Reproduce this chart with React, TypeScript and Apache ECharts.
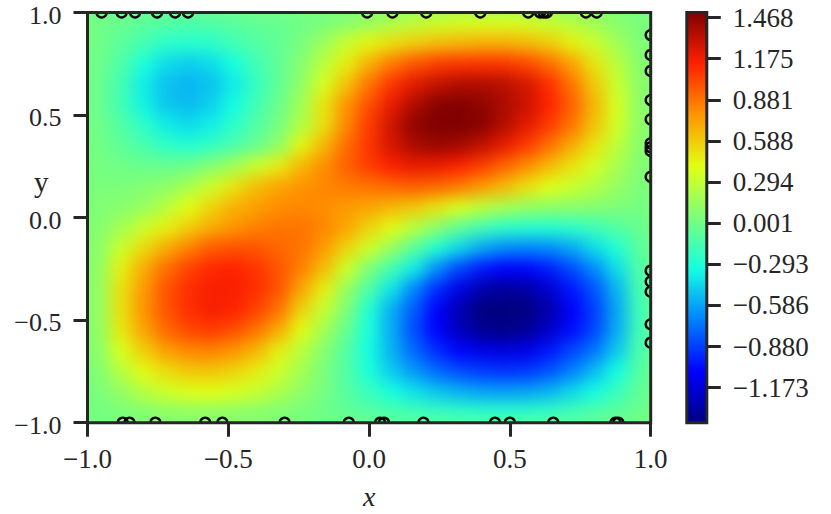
import React, { useEffect, useRef } from "react";
import * as echarts from "echarts";

const xCells = ["-0.96","-0.88","-0.80","-0.72","-0.64","-0.56","-0.48","-0.40","-0.32","-0.24","-0.16","-0.08","0.00","0.08","0.16","0.24","0.32","0.40","0.48","0.56","0.64","0.72","0.80","0.88","0.96"];
const yCells = ["0.95","0.85","0.75","0.65","0.55","0.45","0.35","0.25","0.15","0.05","-0.05","-0.15","-0.25","-0.35","-0.45","-0.55","-0.65","-0.75","-0.85","-0.95"];

const fieldRows: number[][] = [
  [0,-.03,-.07,-.1,-.12,-.11,-.08,-.05,-.03,0,.03,.08,.14,.21,.28,.33,.36,.37,.37,.36,.31,.25,.17,.09,.03],
  [0,-.07,-.15,-.24,-.26,-.24,-.16,-.1,-.05,.03,.16,.31,.44,.52,.58,.63,.66,.68,.68,.65,.58,.46,.32,.18,.06],
  [-.01,-.12,-.3,-.43,-.47,-.43,-.31,-.17,-.05,.08,.27,.47,.68,.86,.98,1.05,1.08,1.09,1.08,1.02,.9,.73,.5,.26,.09],
  [-.02,-.16,-.38,-.5,-.54,-.5,-.38,-.21,-.05,.12,.36,.62,.88,1.08,1.22,1.31,1.36,1.37,1.34,1.26,1.1,.88,.6,.32,.1],
  [-.02,-.17,-.36,-.49,-.52,-.46,-.33,-.17,-.02,.18,.5,.78,1,1.2,1.37,1.48,1.5,1.46,1.38,1.29,1.14,.94,.66,.36,.11],
  [0,-.11,-.24,-.38,-.43,-.37,-.24,-.11,.03,.23,.52,.82,1.06,1.28,1.46,1.56,1.56,1.48,1.36,1.22,1.06,.88,.62,.35,.11],
  [.01,-.06,-.14,-.23,-.27,-.22,-.13,-.03,.12,.44,.66,.9,1.08,1.26,1.38,1.43,1.4,1.32,1.2,1.06,.89,.7,.5,.28,.09],
  [.02,0,-.02,-.03,0,.08,.18,.32,.47,.66,.8,.94,1.06,1.15,1.2,1.19,1.14,1.05,.93,.8,.65,.5,.35,.2,.07],
  [.04,.04,.07,.1,.2,.33,.5,.64,.72,.78,.82,.86,.88,.92,.95,.92,.86,.76,.65,.52,.4,.32,.24,.14,.05],
  [.06,.09,.14,.26,.41,.56,.68,.74,.8,.82,.8,.76,.72,.66,.6,.5,.38,.28,.2,.14,.12,.1,.08,.05,.02],
  [.08,.18,.32,.46,.58,.7,.78,.84,.88,.88,.82,.72,.56,.42,.26,.1,-.06,-.16,-.24,-.26,-.27,-.24,-.18,-.1,-.03],
  [.1,.32,.54,.7,.84,.96,.99,.98,.92,.88,.76,.56,.34,.14,-.08,-.28,-.44,-.58,-.66,-.68,-.66,-.58,-.43,-.28,-.08],
  [.12,.46,.7,.9,1.04,1.12,1.14,1.08,.98,.84,.64,.34,.05,-.16,-.38,-.65,-.86,-.99,-1.06,-1.05,-.98,-.84,-.66,-.42,-.12],
  [.13,.51,.76,.98,1.1,1.16,1.16,1.1,.98,.72,.46,.14,-.12,-.4,-.68,-.93,-1.14,-1.29,-1.35,-1.32,-1.2,-1,-.82,-.54,-.15],
  [.13,.52,.78,.98,1.1,1.16,1.14,1.04,.88,.56,.3,.06,-.28,-.56,-.8,-1.06,-1.28,-1.42,-1.46,-1.42,-1.29,-1.07,-.88,-.58,-.17],
  [.12,.49,.72,.92,1.02,1.06,1,.88,.7,.42,.18,-.04,-.3,-.56,-.84,-1.06,-1.25,-1.37,-1.4,-1.36,-1.22,-1.03,-.86,-.57,-.17],
  [.1,.38,.58,.74,.82,.84,.78,.66,.46,.26,.08,-.1,-.33,-.55,-.76,-.93,-1.05,-1.12,-1.15,-1.12,-1,-.86,-.72,-.48,-.14],
  [.07,.25,.42,.53,.6,.61,.56,.47,.33,.18,.04,-.11,-.3,-.48,-.62,-.75,-.84,-.89,-.91,-.9,-.82,-.69,-.52,-.33,-.1],
  [.04,.13,.25,.34,.39,.41,.37,.31,.22,.12,.02,-.09,-.2,-.31,-.41,-.49,-.55,-.59,-.6,-.59,-.54,-.44,-.33,-.2,-.06],
  [.01,.04,.07,.1,.12,.12,.11,.09,.06,.03,-.01,-.05,-.09,-.13,-.17,-.2,-.22,-.24,-.24,-.24,-.21,-.17,-.12,-.07,-.02],
];

const topPointsX = [-.95,-.879,-.831,-.753,-.689,-.643,-.007,.083,.203,.395,.565,.607,.62,.631,.77,.808];
const bottomPointsX = [-.875,-.851,-.759,-.582,-.521,-.3,-.072,.039,.053,.193,.447,.5,.654,.875,.885];
const rightPointsY = [.89,.793,.715,.573,.479,.362,.343,.325,.199,-.259,-.312,-.361,-.52,-.61];

const colorbarTicks = [1.468,1.175,.881,.588,.294,.001,-.293,-.586,-.88,-1.173];
const colorMin = -1.423;
const colorMax = 1.505;
const jet = ["#000080","#0000ff","#0080ff","#14ffe2","#7bff7b","#e2ff14","#ff9600","#ff2100","#800000"];

const FONT = "'Liberation Serif', serif";
const INK = "#262626";
const PLOT = { left: 87.5, top: 12.5, width: 563.2, height: 410.2 };
const BAR = { left: 686.8, top: 12.5, width: 20, height: 410.2 };
const minus = (s: string) => s.replace("-", "\u2212");

const points = [
  ...topPointsX.map((x) => [x, 1]),
  ...bottomPointsX.map((x) => [x, -1]),
  ...rightPointsY.map((y) => [1, y]),
];

const cells: number[][] = [];
fieldRows.forEach((row, j) => row.forEach((v, i) => cells.push([i, j, v])));

export default function App() {
  const fieldRef = useRef<HTMLDivElement>(null);
  const mainRef = useRef<HTMLDivElement>(null);

  useEffect(() => {
    const field = echarts.init(fieldRef.current!, undefined, { renderer: "svg" });
    field.setOption({
      animation: false,
      grid: { ...PLOT, containLabel: false, outerBoundsMode: "none" },
      xAxis: { type: "category", data: xCells, show: false },
      yAxis: { type: "category", data: yCells, inverse: true, show: false },
      visualMap: { show: false, min: colorMin, max: colorMax, dimension: 2, inRange: { color: jet } },
      series: [{ type: "heatmap", data: cells, progressive: 0, itemStyle: { borderWidth: 0 } }],
    });

    const main = echarts.init(mainRef.current!, undefined, { renderer: "svg" });
    const label = { fontFamily: FONT, fontSize: 27, lineHeight: 24, color: INK };
    const tick = { show: true, length: 14, lineStyle: { color: INK, width: 3 } };
    const noLine = { show: false, onZero: false };
    main.setOption({
      animation: false,
      grid: [
        { ...PLOT, z: 10, outerBoundsMode: "none", show: true, borderColor: INK, borderWidth: 3, backgroundColor: "transparent" },
        { ...BAR, z: 10, outerBoundsMode: "none", show: true, borderColor: INK, borderWidth: 3, backgroundColor: "transparent" },
      ],
      xAxis: [
        {
          type: "value", gridIndex: 0, min: -1, max: 1, interval: 0.5, position: "bottom",
          axisLine: noLine, splitLine: { show: false }, axisTick: tick,
          axisLabel: { ...label, margin: 24, formatter: (v: number) => minus(v.toFixed(1)) },
          name: "x", nameLocation: "middle", nameGap: 60,
          nameTextStyle: { fontFamily: FONT, fontSize: 28, lineHeight: 28, fontStyle: "italic", color: INK },
        },
        { type: "value", gridIndex: 1, min: 0, max: 1, show: false },
      ],
      yAxis: [
        {
          type: "value", gridIndex: 0, min: -1, max: 1, interval: 0.5, position: "left",
          axisLine: noLine, splitLine: { show: false }, axisTick: tick,
          axisLabel: { ...label, fontSize: 26, lineHeight: 5, verticalAlign: "top", margin: 26, formatter: (v: number) => minus(v.toFixed(1)) },
        },
        {
          type: "value", gridIndex: 1, min: colorMin, max: colorMax, position: "right",
          axisLine: noLine, splitLine: { show: false },
          axisTick: { ...tick, customValues: colorbarTicks },
          axisLabel: { ...label, margin: 26, customValues: colorbarTicks, formatter: (v: number) => minus(v.toFixed(3)) },
        },
      ],
      visualMap: {
        show: true, seriesIndex: [], min: colorMin, max: colorMax, calculable: false,
        left: BAR.left, top: BAR.top, itemWidth: BAR.width, itemHeight: BAR.height,
        padding: 0, inRange: { color: jet }, text: null,
      },
      graphic: [
        { type: "text", left: 34, top: 167, style: { text: "y", fontFamily: FONT, fontSize: 29, fill: INK } },
      ],
      series: [
        {
          type: "custom", xAxisIndex: 0, yAxisIndex: 0, clip: true, data: points,
          encode: { x: 0, y: 1 },
          renderItem: (_: unknown, api: any) => {
            const c = api.coord([api.value(0), api.value(1)]);
            return {
              type: "circle",
              shape: { cx: c[0], cy: c[1], r: 5 },
              style: { fill: "none", stroke: "#000000", lineWidth: 2.4 },
            };
          },
        },
      ],
    });

    return () => {
      field.dispose();
      main.dispose();
    };
  }, []);

  const inset = `inset(${PLOT.top}px ${831 - PLOT.left - PLOT.width}px ${514 - PLOT.top - PLOT.height}px ${PLOT.left}px)`;
  return (
    <div style={{ position: "fixed", left: 0, top: 0, width: 831, height: 514, background: "#ffffff", overflow: "hidden" }}>
      <div style={{ position: "absolute", left: 0, top: 0, width: 831, height: 514, clipPath: inset }}>
        <div ref={fieldRef} style={{ position: "absolute", left: 0, top: 0, width: 831, height: 514, background: "#7bff7b", filter: "blur(8px)" }} />
      </div>
      <div ref={mainRef} style={{ position: "absolute", left: 0, top: 0, width: 831, height: 514 }} />
    </div>
  );
}
